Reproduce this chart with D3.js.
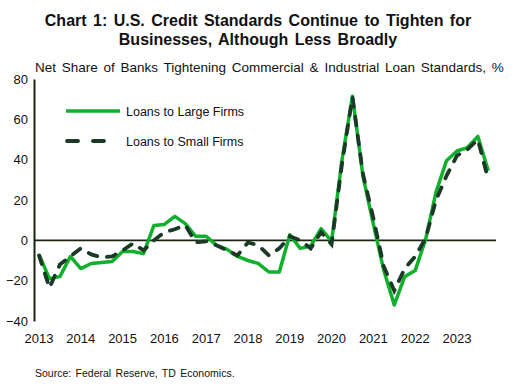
<!DOCTYPE html>
<html>
<head>
<meta charset='utf-8'>
<script src='https://d3js.org/d3.v7.min.js'></script>
<style>
  body {margin:0; background:#fff;}
  svg {font-family:'Liberation Sans', Arial, sans-serif;}
</style>
</head>
<body>
<svg id='chart'></svg>
<script>
  // quarterly, 2013Q1 .. 2023Q4
  var years=['2013','2014','2015','2016','2017','2018','2019','2020','2021','2022','2023'];
  var quarters=[];
  years.forEach(function(y) {['Q1','Q2','Q3','Q4'].forEach(function(q) {quarters.push(y+q);});});
  var largeFirms=[-7,-19,-18,-8,-14,-11.5,-11,-10.5,-5.5,-5.5,-6.6,7.4,
                  7.9,11.9,8.3,2,2,-2.5,-4.5,-8,-10,-11.5,-15.7,-15.7,
                  2.8,-4,-2.8,5.8,-0.5,40,71.5,32,8,-15,-32,-18,
                  -15,0.5,24,39.5,44.3,46,51.5,34.5];
  var smallFirms=[-7.5,-23.5,-12,-8,-4,-7,-8.5,-8,-5,-1.5,-5,0,
                  4,5.5,7.5,-1,-0.5,-2.5,-5,-7.5,-1,-2.5,-7.5,-4,
                  2,0,-4,4,-2,38,71,33,11,-13,-25,-14,
                  -8,1,20,32,42,45,50,30];
  var yTicks=[-40,-20,0,20,40,60,80];

  var W=516, H=385;
  var svg=d3.select('#chart').attr('width',W).attr('height',H);
  var x=d3.scalePoint().domain(quarters).range([39,488.3]);
  var y=d3.scaleLinear().domain([-40,80]).range([321,79]);

  svg.append('text').attr('x',258).attr('y',26).attr('text-anchor','middle')
     .attr('font-weight','bold').attr('font-size',16).attr('word-spacing',2).attr('fill','#111')
     .text('Chart 1: U.S. Credit Standards Continue to Tighten for');
  svg.append('text').attr('x',258).attr('y',45).attr('text-anchor','middle')
     .attr('font-weight','bold').attr('font-size',16).attr('word-spacing',2).attr('fill','#111')
     .text('Businesses, Although Less Broadly');
  svg.append('text').attr('x',35).attr('y',72).attr('font-size',13.5).attr('word-spacing',2)
     .attr('fill','#111')
     .text('Net Share of Banks Tightening Commercial & Industrial Loan Standards, %');

  // y axis
  var yAxis=svg.append('g').attr('transform','translate(34,0)')
     .call(d3.axisLeft(y).tickValues(yTicks).tickSize(0).tickPadding(6));
  yAxis.select('.domain').attr('stroke','#1a2410').attr('stroke-width',2);
  yAxis.selectAll('text').attr('font-size',13).attr('fill','#111')
       .attr('font-family','Liberation Sans, Arial, sans-serif');

  // x labels
  svg.append('g').selectAll('text').data(years).join('text')
     .attr('x',function(d) {return x(d+'Q1');}).attr('y',343)
     .attr('text-anchor','middle').attr('font-size',13).attr('fill','#111')
     .text(function(d) {return d;});

  // zero line
  svg.append('line').attr('x1',34).attr('x2',496).attr('y1',y(0)).attr('y2',y(0))
     .attr('stroke','#1a2410').attr('stroke-width',1.8);

  var line=d3.line().x(function(d,i) {return x(quarters[i]);}).y(function(d) {return y(d);});
  svg.append('path').datum(largeFirms).attr('d',line)
     .attr('fill','none').attr('stroke','#10b02c').attr('stroke-width',3.5)
     .attr('stroke-linejoin','round');
  svg.append('path').datum(smallFirms).attr('d',line)
     .attr('fill','none').attr('stroke','#1a3a26').attr('stroke-width',3.8)
     .attr('stroke-dasharray','9,10').attr('stroke-linecap','round');

  // legend
  var leg=svg.append('g');
  leg.append('line').attr('x1',66).attr('x2',120).attr('y1',111).attr('y2',111)
     .attr('stroke','#10b02c').attr('stroke-width',3.5);
  leg.append('line').attr('x1',67).attr('x2',110).attr('y1',141).attr('y2',141)
     .attr('stroke','#1a3a26').attr('stroke-width',3.8)
     .attr('stroke-dasharray','11,15').attr('stroke-linecap','round');
  leg.append('text').attr('x',126).attr('y',115.5).attr('font-size',12.5).attr('fill','#111')
     .text('Loans to Large Firms');
  leg.append('text').attr('x',126).attr('y',145.5).attr('font-size',12.5).attr('fill','#111')
     .text('Loans to Small Firms');

  svg.append('text').attr('x',35).attr('y',377).attr('font-size',10.5).attr('word-spacing',1.5)
     .attr('fill','#111')
     .text('Source: Federal Reserve, TD Economics.');
</script>
</body>
</html>
